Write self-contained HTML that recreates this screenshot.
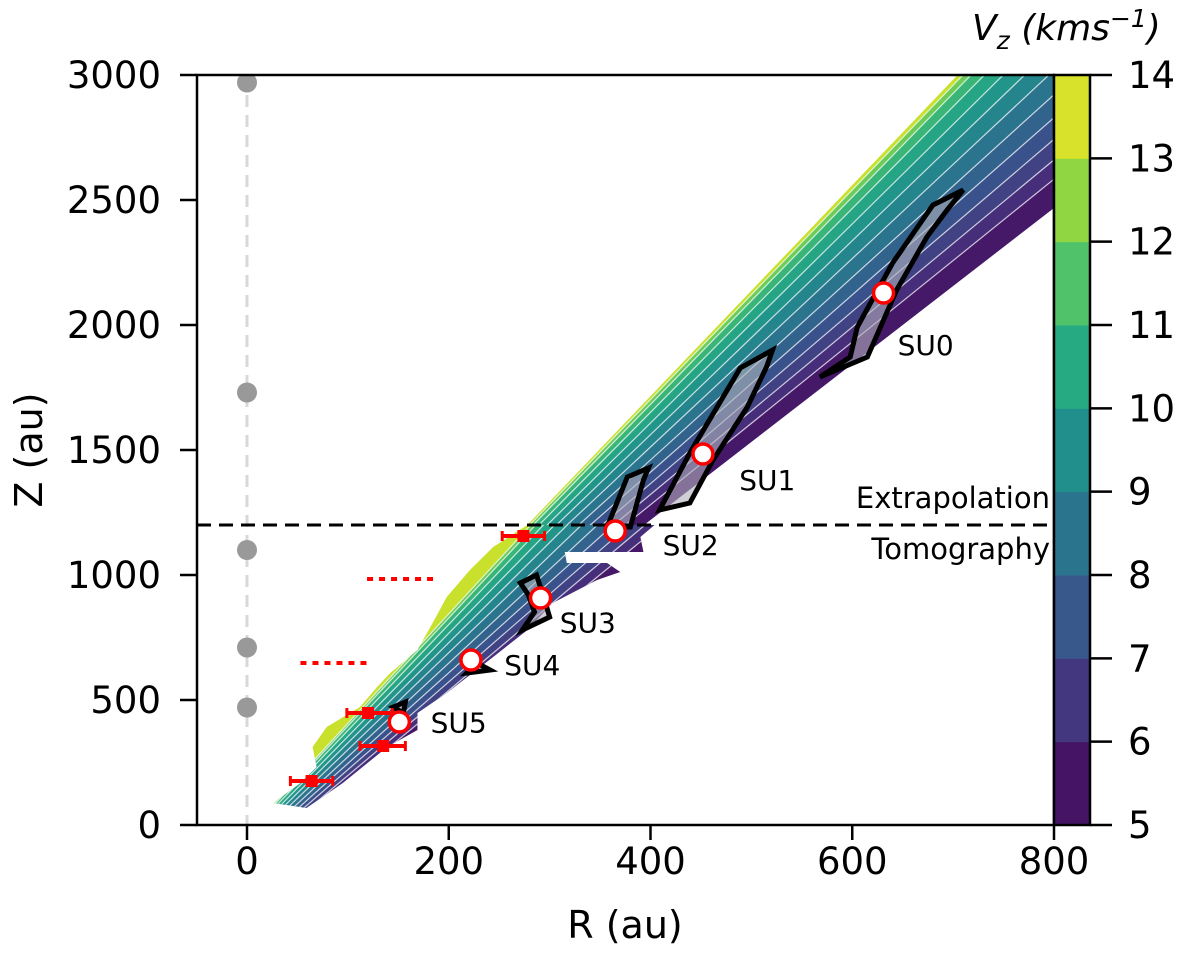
<!DOCTYPE html>
<html><head><meta charset="utf-8"><style>
html,body{margin:0;padding:0;background:#fff;}
svg{display:block;font-family:"DejaVu Sans","Liberation Sans",sans-serif;}
</style></head><body>
<svg id="chart" width="1200" height="958" viewBox="0 0 1200 958" xmlns="http://www.w3.org/2000/svg">
<defs>
<clipPath id="plotClip"><rect x="197" y="75" width="857" height="750"/></clipPath>
<clipPath id="upClip"><polygon id="upPoly"/></clipPath>
<clipPath id="lowClip"><polygon id="lowPoly"/></clipPath>
</defs>
<g id="layer" clip-path="url(#plotClip)"></g>
<g id="axes"></g>
</svg>
<script>
// ---- data ----
const xTicks=[0,200,400,600,800];
const yTicks=[0,500,1000,1500,2000,2500,3000];
const cbTicks=[5,6,7,8,9,10,11,12,13,14];
const stripeF=[0,0.02,0.05,0.1,0.17,0.25,0.34,0.44,0.54,0.64,0.74,0.84,1];
const stripeVz=[13.3,12.0,11.0,10.3,9.7,9.1,8.5,7.9,7.3,6.8,6.2,5.6];
const lowerEdgeR=[278,244,221,198,184,169,142,129,112,79,65,69,53,26,59,95,139,169,169,198,244,278,303,347,370,357,317,315,393,390,404];
const lowerEdgeZ=[1200,1112,1020,912,808,700,608,552,472,392,312,232,168,88,68,168,312,380,448,528,672,780,888,980,1012,1048,1048,1092,1092,1152,1200];
const suNames=["SU0","SU1","SU2","SU3","SU4","SU5"];
const suR=[631,452,365,291,222,151];
const suZ=[2128,1484,1176,908,660,412];
const suLabelR=[645,488,412,310,255,182];
const suLabelZ=[1880,1340,1080,770,600,370];
const regionR=[[710,680,640,605,598,568,615,644,674,694],[521,489,439,409,439,462,496,515],[398,377,357,380,393],[271,287,295,300,273,285,279],[218,241,228],[145,157,155]];
const regionZ=[[2540,2480,2248,1992,1872,1792,1872,2140,2352,2460],[1900,1828,1488,1260,1288,1460,1672,1832],[1428,1392,1192,1192,1380],[968,1000,900,832,780,852,920],[608,620,648],[472,492,448]];
const grayZ=[2970,1730,1100,710,470];
const errR=[274,120,135,64];
const errLo=[253,99,112,43];
const errHi=[295,144,157,85];
const errZ=[1156,448,316,176];
const dotZ=[984,648];
const dotLo=[119,53];
const dotHi=[189,122];
// ---- scales ----
const sx=r=>247+r*1.00875, sy=z=>825-z*0.25;
const NS="http://www.w3.org/2000/svg";
const layer=document.getElementById('layer'), axes=document.getElementById('axes');
function mk(tag,attrs,parent){const e=document.createElementNS(NS,tag);for(const k in attrs)e.setAttribute(k,attrs[k]);(parent||layer).appendChild(e);return e;}
const vir=["#440154","#472c7a","#3b518b","#2c718e","#21908d","#27ad81","#5cc863","#aadc32","#fde725"];
function hx(c){return [1,3,5].map(i=>parseInt(c.substr(i,2),16));}
function viridis(t){t=Math.max(0,Math.min(1,t));const p=t*8,i=Math.min(7,Math.floor(p)),f=p-i;const a=hx(vir[i]),b=hx(vir[i+1]);return "rgb("+a.map((v,k)=>Math.round(v+(b[k]-v)*f)).join(",")+")";}
const vcol=v=>viridis((v-5)/9);
const Lu=z=>330+(z-1420)/4.22, Ru=z=>409+(z-1248)/3.12;
const Ll=z=>26+(z-88)/4.41, Rl0=z=>95+(z-168)/3.34;
const Rl=z=>Ll(z)+(Rl0(z)-Ll(z))*1.25;
document.getElementById('upPoly').setAttribute('points',[[Lu(1200),1200],[Lu(3000),3000],[Ru(3000),3000],[Ru(1200),1200]].map(p=>sx(p[0])+","+sy(p[1])).join(" "));
document.getElementById('lowPoly').setAttribute('points',lowerEdgeR.map((r,i)=>sx(r)+","+sy(lowerEdgeZ[i])).join(" "));
function stripes(L,R,clip,name){
  const g=mk('g',{'clip-path':'url(#'+clip+')'});
  
  
  const n=stripeVz.length;
  const P=(f,z)=>sx(L(z)+f*(R(z)-L(z)))+","+sy(z);
  stripeVz.forEach((v,i)=>{
    let f0=stripeF[i],f1=stripeF[i+1]; if(i===0)f0=-3; if(i===n-1)f1=4;
    const p=mk('polygon',{points:[P(f0,-200),P(f0,3200),P(f1,3200),P(f1,-200)].join(" "),fill:vcol(v),stroke:vcol(v),'stroke-width':0.6},g);
    
    
  });
  for(let i=1;i<n;i++){const f=stripeF[i];
    const l=mk('line',{x1:sx(L(-200)+f*(R(-200)-L(-200))),y1:sy(-200),x2:sx(L(3200)+f*(R(3200)-L(3200))),y2:sy(3200),stroke:'#fff','stroke-width':1.2,'stroke-opacity':0.75},g);
    
    
  }
}
stripes(Lu,Ru,'upClip','extrapolation-region');
stripes(Ll,Rl,'lowClip','tomography-region');
let e=mk('line',{x1:sx(0),y1:75,x2:sx(0),y2:825,stroke:'#d8d8d8','stroke-width':3,'stroke-dasharray':'12,8'});

grayZ.forEach(z=>{const c=mk('circle',{cx:sx(0),cy:sy(z),r:10,fill:'#999'});

});
regionR.forEach((rs,k)=>{const p=mk('polygon',{points:rs.map((r,i)=>sx(r)+","+sy(regionZ[k][i])).join(" "),fill:'rgba(175,175,185,0.6)',stroke:'#000','stroke-width':5,'stroke-linejoin':'miter'});

});
e=mk('line',{x1:197,y1:sy(1200),x2:1054,y2:sy(1200),stroke:'#000','stroke-width':3,'stroke-dasharray':'14,8'});

dotZ.forEach((z,i)=>{const l=mk('line',{x1:sx(dotLo[i]),y1:sy(z),x2:sx(dotHi[i]),y2:sy(z),stroke:'#f00','stroke-width':4,'stroke-dasharray':'6,6'});

});
errR.forEach((r,i)=>{const y=sy(errZ[i]);
const l=mk('line',{x1:sx(errLo[i]),y1:y,x2:sx(errHi[i]),y2:y,stroke:'#f00','stroke-width':4});


[errLo[i],errHi[i]].forEach(v=>{mk('line',{x1:sx(v),y1:y-5,x2:sx(v),y2:y+5,stroke:'#f00','stroke-width':3});});
const m=mk('rect',{x:sx(r)-6,y:y-6,width:12,height:12,fill:'#f00'});

});
suR.forEach((r,i)=>{const c=mk('circle',{cx:sx(r),cy:sy(suZ[i]),r:10,fill:'#fff',stroke:'#f00','stroke-width':3.5});


const t=mk('text',{x:sx(suLabelR[i]),y:sy(suLabelZ[i]),'font-size':28,fill:'#000'});t.textContent=suNames[i];

});
e=mk('text',{x:1050,y:508,'font-size':29,'text-anchor':'end'},axes);e.textContent='Extrapolation';

e=mk('text',{x:1050,y:559,'font-size':29,'text-anchor':'end'},axes);e.textContent='Tomography';

e=mk('rect',{x:197,y:75,width:857,height:750,fill:'none',stroke:'#000','stroke-width':2.5},axes);

xTicks.forEach(v=>{mk('line',{x1:sx(v),y1:825,x2:sx(v),y2:840,stroke:'#000','stroke-width':2.5},axes);
const t=mk('text',{x:sx(v),y:874,'font-size':37,'text-anchor':'middle'},axes);t.textContent=v;

});
yTicks.forEach(v=>{mk('line',{x1:180,y1:sy(v),x2:197,y2:sy(v),stroke:'#000','stroke-width':2.5},axes);
const t=mk('text',{x:161,y:sy(v)+13,'font-size':37,'text-anchor':'end'},axes);t.textContent=v;

});
e=mk('text',{x:625,y:938,'font-size':38,'text-anchor':'middle'},axes);e.textContent='R (au)';

e=mk('text',{x:0,y:0,'font-size':38,'text-anchor':'middle',transform:'translate(42,450) rotate(-90)'},axes);e.textContent='Z (au)';

const cbY=v=>825-(v-5)/9*750;
for(let i=0;i<9;i++){const r=mk('rect',{x:1054,y:cbY(cbTicks[i+1]),width:36,height:cbY(cbTicks[i])-cbY(cbTicks[i+1])+0.5,fill:vcol(cbTicks[i]+0.5)},axes);

}
e=mk('rect',{x:1054,y:75,width:36,height:750,fill:'none',stroke:'#000','stroke-width':2.5},axes);

cbTicks.forEach(v=>{mk('line',{x1:1090,y1:cbY(v),x2:1112,y2:cbY(v),stroke:'#000','stroke-width':2.5},axes);
const t=mk('text',{x:1128,y:cbY(v)+13,'font-size':37},axes);t.textContent=v;

});
e=mk('text',{x:972,y:40,'font-size':36,'font-style':'italic'},axes);
e.innerHTML='V<tspan font-size="25" dy="9">z</tspan><tspan dy="-9"> (kms</tspan><tspan font-size="25" dy="-13">−1</tspan><tspan dy="13">)</tspan>';

</script>
</body></html>
